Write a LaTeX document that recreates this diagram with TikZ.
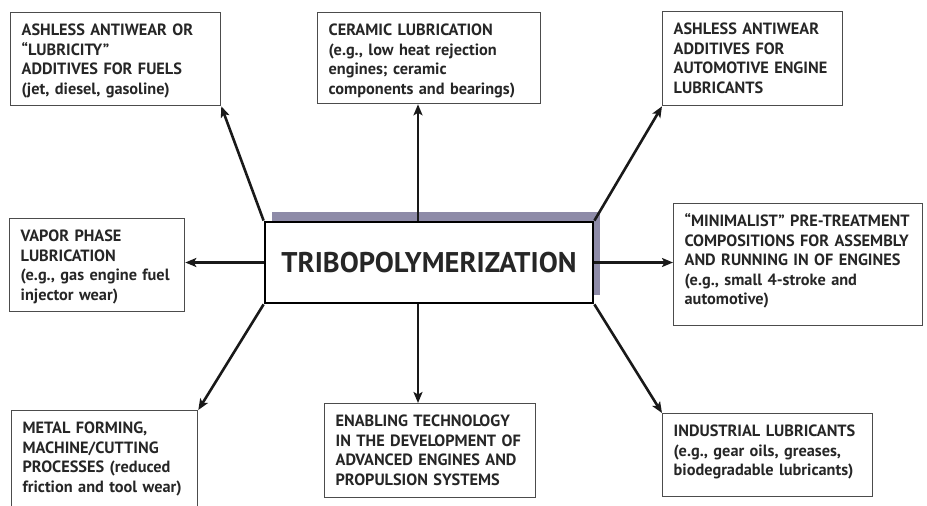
\documentclass[tikz,border=0pt]{standalone}
\usepackage{fontspec}
\setmainfont{PT Sans}
\usetikzlibrary{arrows.meta}

\begin{document}
\begin{tikzpicture}[x=1pt,y=-1pt]
  \definecolor{shadowblue}{HTML}{8E8BA8}
  \definecolor{inkgray}{HTML}{262626}
  \tikzset{
    topic/.style={draw=black!70, line width=1.3pt, anchor=north west, align=left,
      inner xsep=11pt, inner ysep=0pt, text height=23pt, text=inkgray,
      font=\fontsize{16.3}{19.5}\selectfont\bfseries},
    spoke/.style={line width=2.6pt, draw=black!90,
      -{Stealth[length=11pt,width=9pt,inset=2.5pt]}}
  }
  \useasboundingbox (0,0) rectangle (927,506);

  % the hub and its shadow
  \fill[shadowblue] (272,212) rectangle (600,295);
  \node[draw, line width=2.8pt, fill=white, minimum width=328pt, minimum height=81pt,
    inner sep=0pt, text=inkgray, font=\fontsize{28.5}{30}\selectfont\bfseries]
    (tribo) at (429,262.5) {TRIBOPOLYMERIZATION};

  % application boxes
  \node[topic, text width=188pt, text depth=70pt] (fuels) at (10,12)
    {ASHLESS ANTIWEAR OR\\“LUBRICITY”\\ADDITIVES FOR FUELS\\(jet, diesel, gasoline)};
  \node[topic, text width=201pt, text depth=68pt] (ceramic) at (317,12)
    {CERAMIC LUBRICATION\\(e.g., low heat rejection\\engines; ceramic\\components and bearings)};
  \node[topic, text width=158pt, text depth=71pt] (automotive) at (662,11)
    {ASHLESS ANTIWEAR\\ADDITIVES FOR\\AUTOMOTIVE ENGINE\\LUBRICANTS};
  \node[topic, text width=153pt, text depth=70pt] (vapor) at (9,218)
    {VAPOR PHASE\\LUBRICATION\\(e.g., gas engine fuel\\injector wear)};
  \node[topic, text width=227pt, text depth=99pt] (pretreat) at (673,203)
    {“MINIMALIST” PRE-TREATMENT\\COMPOSITIONS FOR ASSEMBLY\\AND RUNNING IN OF ENGINES\\(e.g., small 4-stroke and\\automotive)};
  \node[topic, text width=164pt, text depth=97pt] (metal) at (11,410)
    {METAL FORMING,\\MACHINE/CUTTING\\PROCESSES (reduced\\friction and tool wear)};
  \node[topic, text width=189pt, text depth=71pt] (enabling) at (324,403)
    {ENABLING TECHNOLOGY\\IN THE DEVELOPMENT OF\\ADVANCED ENGINES AND\\PROPULSION SYSTEMS};
  \node[topic, text width=188pt, text depth=60pt] (industrial) at (662,413)
    {INDUSTRIAL LUBRICANTS\\(e.g., gear oils, greases,\\biodegradable lubricants)};

  % spokes
  \draw[spoke] (tribo.north west) -- (fuels.south east);
  \draw[spoke] ([xshift=-11pt]tribo.north) -- ([xshift=-11pt]tribo.north |- ceramic.south);
  \draw[spoke] (tribo.north east) -- (automotive.south west);
  \draw[spoke] (tribo.west) -- (tribo.west -| vapor.east);
  \draw[spoke] (tribo.east) -- (tribo.east -| pretreat.west);
  \draw[spoke] (tribo.south west) -- (metal.north east);
  \draw[spoke] ([xshift=-11pt]tribo.south) -- ([xshift=-11pt]tribo.south |- enabling.north);
  \draw[spoke] (tribo.south east) -- (industrial.north west);
\end{tikzpicture}
\end{document}
